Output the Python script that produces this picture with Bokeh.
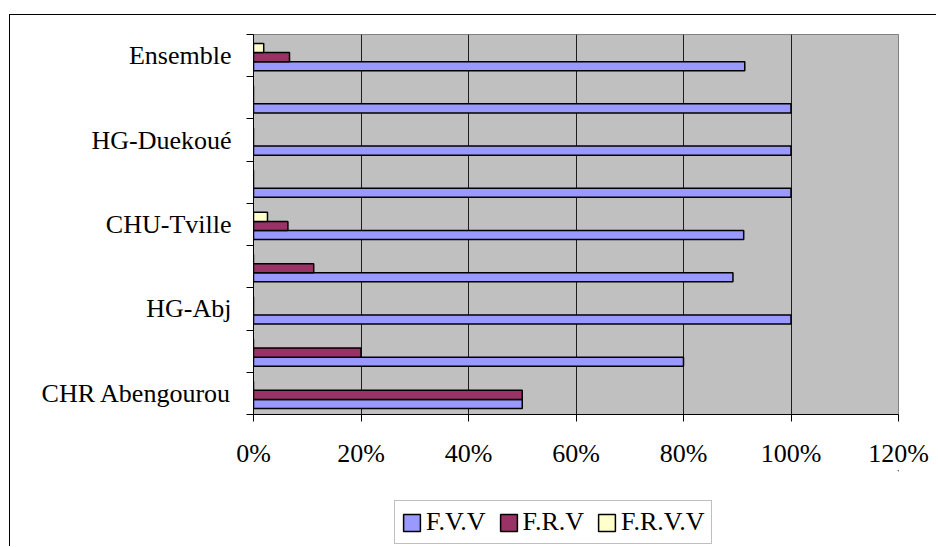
from bokeh.plotting import figure
from bokeh.layouts import column
from bokeh.models import (Range1d, FixedTicker, PrintfTickFormatter, Legend, LegendItem,
                          ColumnDataSource)
from bokeh.embed import file_html
from bokeh.resources import INLINE

categories = ["CHR Abengourou", "", "HG-Abj", "", "CHU-Tville", "", "HG-Duekoué", "", "Ensemble"]
series_names = ["F.V.V", "F.R.V", "F.R.V.V"]
fvv = [50, 80, 100, 89.2, 91.2, 100, 100, 100, 91.4]
frv = [50, 20, 0, 11.2, 6.4, 0, 0, 0, 6.7]
frvv = [0, 0, 0, 0, 2.6, 0, 0, 0, 1.9]
x_ticks = [0, 20, 40, 60, 80, 100, 120]

colors = ["#9999FF", "#993366", "#FFFFCC"]
offsets = [-0.25, -0.035, 0.18]
bar_h = 0.215
FONT = "Liberation Serif"

p = figure(width=926, height=455, output_backend="svg", toolbar_location=None,
           x_range=Range1d(0, 120), y_range=Range1d(0, 9),
           min_border_left=243, min_border_right=38, min_border_top=19,
           min_border_bottom=55,
           background_fill_color="#C0C0C0", border_fill_color="white",
           outline_line_color="#808080", outline_line_width=1)

for vals, col, off in zip([fvv, frv, frvv], colors, offsets):
    ys = [i + 0.5 + off for i in range(len(categories))]
    src = ColumnDataSource(dict(y=ys, right=vals))
    p.hbar(y="y", right="right", left=0, height=bar_h, source=src,
           fill_color=col, line_color="black", line_width=1.5)

# grid
p.ygrid.visible = False
p.xgrid.ticker = FixedTicker(ticks=x_ticks[1:-1])
p.xgrid.grid_line_color = "black"
p.xgrid.grid_line_alpha = 0.85
p.xgrid.grid_line_width = 1

# x axis
xa = p.xaxis[0]
xa.ticker = FixedTicker(ticks=x_ticks)
xa.formatter = PrintfTickFormatter(format="%d%%")
xa.major_tick_out = 7
xa.major_tick_in = 0
xa.minor_tick_out = 0
xa.major_label_standoff = 17
xa.axis_line_color = "black"
xa.major_label_text_font = FONT
xa.major_label_text_font_size = "26px"
xa.major_label_text_color = "black"

# y axis
ya = p.yaxis[0]
label_pos = [i + 0.5 for i, c in enumerate(categories) if c]
ya.ticker = FixedTicker(ticks=label_pos, minor_ticks=list(range(len(categories) + 1)))
ya.major_label_overrides = {i + 0.5: c for i, c in enumerate(categories) if c}
ya.major_tick_out = 0
ya.major_tick_in = 0
ya.minor_tick_out = 7
ya.minor_tick_in = 0
ya.major_label_standoff = 15
ya.axis_line_color = "black"
ya.major_label_text_font = FONT
ya.major_label_text_font_size = "26px"
ya.major_label_text_color = "black"

# legend strip below the chart (its frame is aligned with the chart's frame)
lg = figure(width=926, height=76, output_backend="svg", toolbar_location=None,
            x_range=Range1d(0, 1), y_range=Range1d(0, 1),
            x_axis_location=None, y_axis_location=None,
            min_border_left=243, min_border_right=38, min_border_top=0, min_border_bottom=0,
            background_fill_color="white", border_fill_color="white",
            outline_line_color=None)
lg.xgrid.visible = False
lg.ygrid.visible = False
leg_renderers = []
for col in colors:
    # one bar placed far outside the visible range: only its legend swatch shows
    src = ColumnDataSource(dict(y=[50], left=[20], right=[30]))
    leg_renderers.append(lg.hbar(y="y", right="right", left="left", height=0.5, source=src,
                                 fill_color=col, line_color="black", line_width=1.5))

legend = Legend(items=[LegendItem(label=n, renderers=[r]) for n, r in zip(series_names, leg_renderers)],
                orientation="horizontal", location=(141, 2),
                label_text_font=FONT, label_text_font_size="26px", label_text_color="black",
                glyph_width=21, glyph_height=21, label_standoff=4, spacing=12,
                padding=6, margin=0, border_line_color="#808080",
                background_fill_color="white")
lg.add_layout(legend, "center")

layout = column(p, lg, spacing=0)
layout.styles = {"margin-top": "14px", "margin-left": "9px", "border-top": "1px solid black",
                 "border-left": "1px solid black"}

open("out.html", "w").write(file_html(layout, INLINE))
